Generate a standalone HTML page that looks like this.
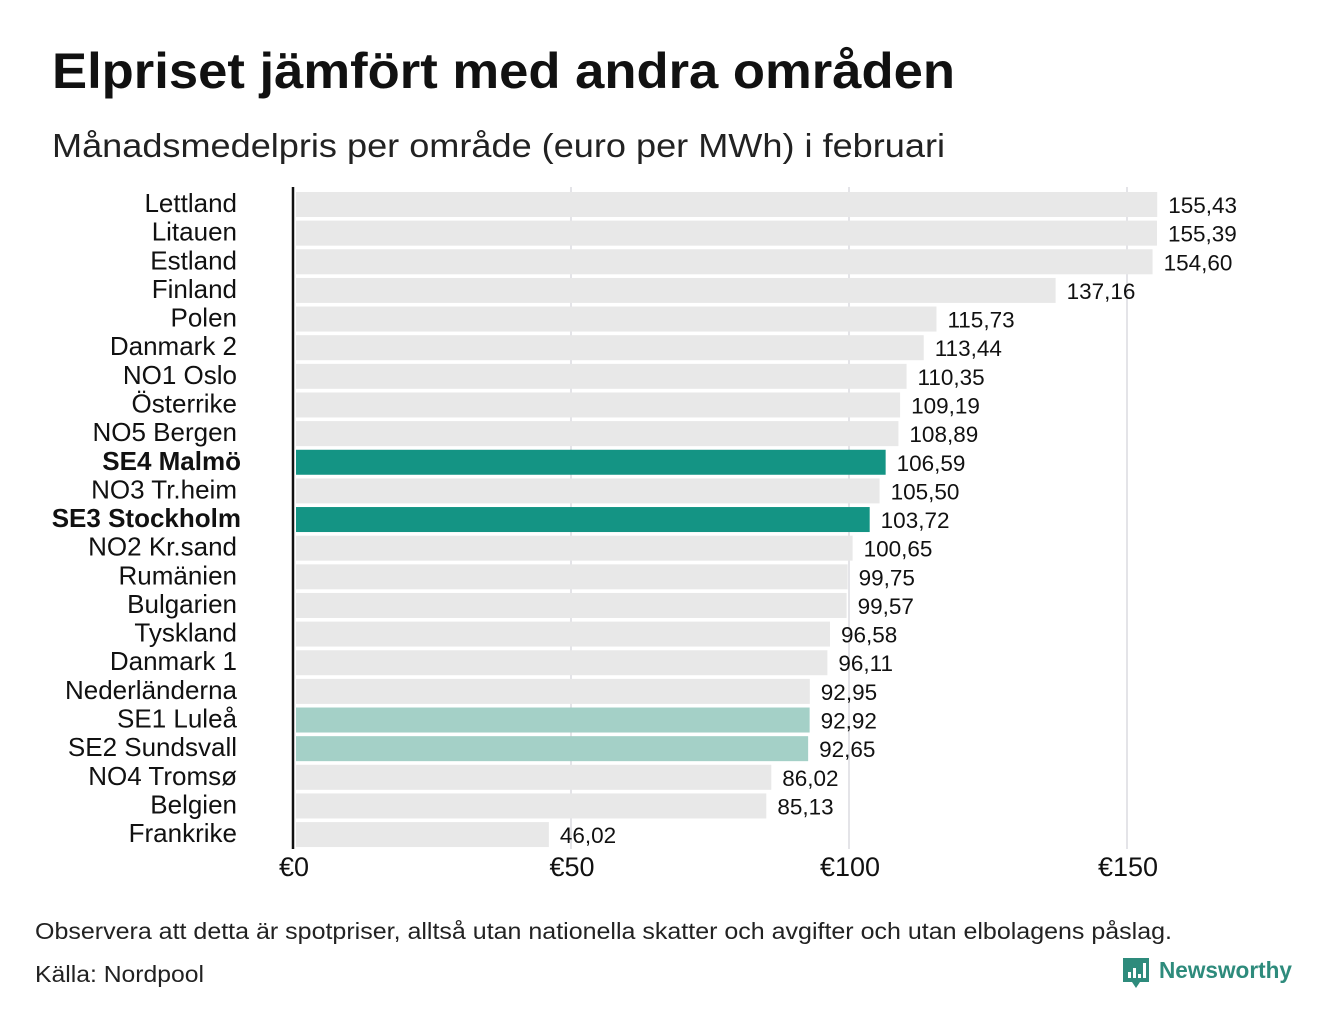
<!DOCTYPE html>
<html><head><meta charset="utf-8"><style>
body{margin:0;background:#fff;width:1340px;height:1020px;overflow:hidden;font-family:"Liberation Sans","DejaVu Sans",sans-serif}
</style></head><body>
<svg id="chart" width="1340" height="1020" xmlns="http://www.w3.org/2000/svg" font-family="'Liberation Sans', sans-serif">
<text x="52" y="88" font-size="50" font-weight="bold" fill="#111" textLength="903" lengthAdjust="spacingAndGlyphs">Elpriset jämfört med andra områden</text>
<text x="52" y="157" font-size="33" fill="#222" textLength="893" lengthAdjust="spacingAndGlyphs">Månadsmedelpris per område (euro per MWh) i februari</text>
<g id="grid"></g><g id="bars"></g><g id="labels"></g>
<line x1="293" y1="187" x2="293" y2="849" stroke="#111" stroke-width="2.5"/>
<text x="35" y="939" font-size="23" fill="#222" textLength="1137" lengthAdjust="spacingAndGlyphs">Observera att detta är spotpriser, alltså utan nationella skatter och avgifter och utan elbolagens påslag.</text>
<text x="35" y="982" font-size="23" fill="#222" textLength="169" lengthAdjust="spacingAndGlyphs">Källa: Nordpool</text>
<g>
<path d="M1123 958h26v24h-9l-4 6-4-6h-9z" fill="#2e8b7c"/>
<rect x="1128" y="972" width="3" height="6" fill="#fff"/><rect x="1133" y="968" width="3" height="10" fill="#fff"/><rect x="1138" y="974" width="3" height="4" fill="#fff"/><rect x="1143" y="963" width="3" height="15" fill="#fff"/>
<text x="1159" y="978" font-size="23" font-weight="bold" fill="#2e8b7c" textLength="133" lengthAdjust="spacingAndGlyphs">Newsworthy</text>
</g>
</svg>
<script>
const categories=["Lettland","Litauen","Estland","Finland","Polen","Danmark  2","NO1 Oslo","Österrike","NO5 Bergen","SE4 Malmö","NO3 Tr.heim","SE3 Stockholm","NO2 Kr.sand","Rumänien","Bulgarien","Tyskland","Danmark  1","Nederländerna","SE1  Luleå","SE2  Sundsvall","NO4 Tromsø","Belgien","Frankrike"];
const values=[155.43,155.39,154.60,137.16,115.73,113.44,110.35,109.19,108.89,106.59,105.50,103.72,100.65,99.75,99.57,96.58,96.11,92.95,92.92,92.65,86.02,85.13,46.02];
const highlight=["","","","","","","","","","dark","","dark","","","","","","","light","light","","",""];
const ticks=[0,50,100,150];
const tickLabels=["€0","€50","€100","€150"];
const NS="http://www.w3.org/2000/svg";
const x=v=>293+v*5.56;
const y=i=>192+i*28.64;
function mk(t,a,p){const e=document.createElementNS(NS,t);for(const k in a)e.setAttribute(k,a[k]);p.appendChild(e);return e;}
const grid=document.getElementById('grid'),bars=document.getElementById('bars'),labels=document.getElementById('labels');
ticks.forEach((t,i)=>{
 if(t>0){const g=mk('line',{x1:x(t),x2:x(t),y1:187,y2:849,stroke:'#c8c8d0','stroke-width':1},grid);
 
 }
 const tl=mk('text',{x:x(t)+1,y:876,'font-size':27,'text-anchor':'middle',fill:'#111'},labels);
 tl.textContent=tickLabels[i];
 
 
});
categories.forEach((c,i)=>{
 const col=highlight[i]==='dark'?'#149484':highlight[i]==='light'?'#a4d0c7':'#e8e8e8';
 const r=mk('rect',{x:296,y:y(i),width:x(values[i])-296,height:25,fill:col},bars);
 
 
 const bold=highlight[i]==='dark';
 const l=mk('text',{x:bold?241:237,y:y(i)+20,'font-size':26,'text-anchor':'end',fill:'#111','font-weight':bold?'bold':'normal','xml:space':'preserve'},labels);
 l.textContent=c;
 
 
 const v=mk('text',{x:x(values[i])+11,y:y(i)+21,'font-size':22.5,fill:'#111'},labels);
 v.textContent=values[i].toFixed(2).replace('.',',');
 
 
});
</script>
</body></html>
